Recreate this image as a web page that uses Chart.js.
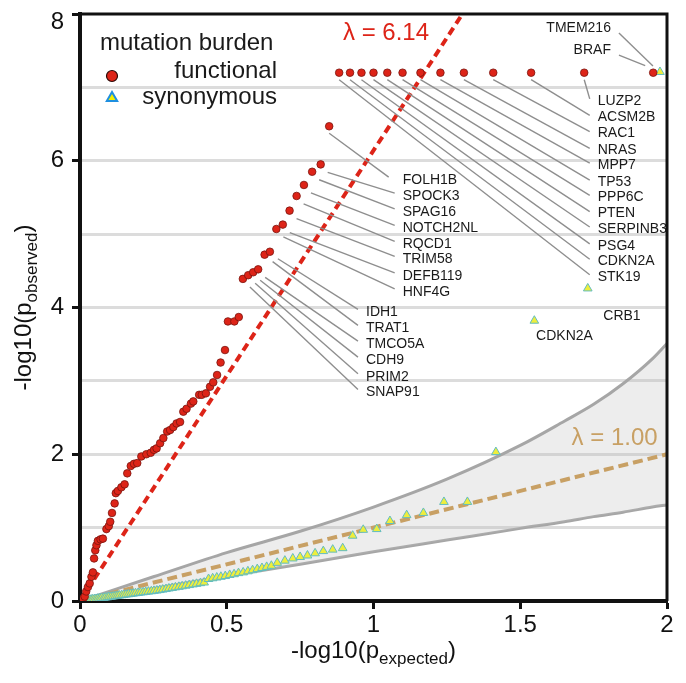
<!DOCTYPE html>
<html>
<head>
<meta charset="utf-8">
<script src="https://cdn.jsdelivr.net/npm/chart.js@4.4.1/dist/chart.umd.min.js"></script>
<style>
  html, body { margin: 0; padding: 0; background: #fff; }
  canvas { display: block; }
</style>
</head>
<body>
<canvas id="qq" width="686" height="683"></canvas>
<script>
// QQ plot data (-log10 expected vs observed)
const funcX = [0.010,0.016,0.021,0.027,0.033,0.039,0.044,0.048,0.052,0.056,0.061,0.070,0.078,0.090,0.098,0.103,0.109,0.118,0.122,0.129,
  0.141,0.152,0.161,0.173,0.184,0.195,0.209,0.226,0.241,0.252,0.261,0.273,0.284,0.297,0.307,0.318,0.329,0.341,0.352,0.363,
  0.378,0.386,0.406,0.415,0.429,0.443,0.454,0.467,0.479,0.494,0.504,0.526,0.541,0.555,0.573,0.590,0.607,0.629,0.647,0.669,
  0.691,0.714,0.738,0.763,0.791,0.820,0.849,0.883,0.920,0.959,1.000,1.047,1.099,1.160,1.228,1.308,1.408,1.537,1.718,1.953];
const funcY = [0.03,0.06,0.13,0.19,0.24,0.33,0.39,0.58,0.69,0.76,0.82,0.84,0.85,0.98,1.02,1.08,1.20,1.33,1.47,1.50,
  1.55,1.59,1.74,1.84,1.87,1.88,1.97,2.00,2.02,2.06,2.08,2.15,2.22,2.31,2.33,2.37,2.42,2.44,2.58,2.62,
  2.69,2.72,2.81,2.81,2.83,2.92,2.98,3.08,3.25,3.42,3.81,3.81,3.87,4.39,4.44,4.48,4.52,4.72,4.76,5.07,
  5.13,5.32,5.52,5.67,5.85,5.95,6.47,7.2,7.2,7.2,7.2,7.2,7.2,7.2,7.2,7.2,7.2,7.2,7.2,7.2];

const synX = [0.004,0.009,0.015,0.021,0.026,0.032,0.038,0.043,0.049,0.055,0.061,0.067,0.073,0.080,0.086,0.093,0.099,0.106,0.113,0.120,
  0.127,0.134,0.142,0.149,0.157,0.165,0.173,0.181,0.189,0.198,0.206,0.215,0.224,0.233,0.243,0.252,0.262,0.272,0.282,0.293,
  0.303,0.314,0.325,0.337,0.348,0.360,0.372,0.385,0.397,0.410,0.423,0.438,0.452,0.466,0.480,0.495,0.510,0.525,0.540,0.556,
  0.572,0.588,0.604,0.620,0.636,0.652,0.672,0.698,0.725,0.750,0.775,0.801,0.829,0.861,0.895,0.929,0.965,1.011,1.056,1.113,
  1.170,1.240,1.320,1.417,1.548,1.730,1.976];
const synY = [0.002,0.005,0.008,0.010,0.014,0.016,0.020,0.022,0.026,0.028,0.033,0.035,0.040,0.042,0.047,0.050,0.055,0.058,0.063,0.066,
  0.071,0.075,0.079,0.083,0.088,0.092,0.097,0.101,0.106,0.110,0.115,0.119,0.124,0.128,0.133,0.138,0.143,0.149,0.156,0.163,
  0.171,0.178,0.186,0.193,0.201,0.209,0.217,0.226,0.234,0.243,0.252,0.300,0.310,0.320,0.330,0.340,0.355,0.365,0.380,0.390,
  0.405,0.420,0.435,0.450,0.465,0.480,0.520,0.550,0.580,0.600,0.620,0.650,0.680,0.700,0.720,0.890,0.970,0.980,1.090,1.170,
  1.200,1.350,1.350,2.030,3.820,4.260,7.210];

// 95% band around the null line
const bandX     = [0, 0.25, 0.5, 0.75, 1.0, 1.25, 1.5, 1.65, 1.75, 1.85, 1.95, 2.0];
const bandUpper = [0, 0.33, 0.66, 0.95, 1.28, 1.66, 2.12, 2.45, 2.68, 2.96, 3.30, 3.51];
const bandLower = [0, 0.17, 0.34, 0.50, 0.67, 0.83, 0.99, 1.08, 1.15, 1.21, 1.28, 1.31];

const lambdaFunc = 6.14;
const lambdaSyn = 1.00;

const xTicks = [0, 0.5, 1, 1.5, 2];
const yTicks = [0, 2, 4, 6, 8];

// gene labels: which point, where the text sits (data units), leader offsets (px)
const geneLabels = [
  {gene:'TMEM216', s:'s', at:1.976, pos:[1.809,7.81], align:'right', from:[-7,-6], to:[8,5]},
  {gene:'BRAF',    s:'f', at:1.953, pos:[1.809,7.507], align:'right', from:[-8,-7], to:[8,5]},
  {gene:'LUZP2',   s:'f', at:1.718, pos:[1.764,6.816], from:[0,7], to:[-8,-2]},
  {gene:'ACSM2B',  s:'f', at:1.537, pos:[1.764,6.59], from:[0,7], to:[-8,-2]},
  {gene:'RAC1',    s:'f', at:1.408, pos:[1.764,6.37], from:[0,7], to:[-8,-2]},
  {gene:'NRAS',    s:'f', at:1.308, pos:[1.764,6.14], from:[0,7], to:[-8,-2]},
  {gene:'MPP7',    s:'f', at:1.228, pos:[1.764,5.94], from:[0,7], to:[-8,-2]},
  {gene:'TP53',    s:'f', at:1.160, pos:[1.764,5.71], from:[0,7], to:[-8,-2]},
  {gene:'PPP6C',   s:'f', at:1.099, pos:[1.764,5.50], from:[0,7], to:[-8,-2]},
  {gene:'PTEN',    s:'f', at:1.047, pos:[1.764,5.28], from:[0,7], to:[-8,-2]},
  {gene:'SERPINB3',s:'f', at:1.000, pos:[1.764,5.07], from:[0,7], to:[-8,-2]},
  {gene:'PSG4',    s:'f', at:0.959, pos:[1.764,4.84], from:[0,7], to:[-8,-2]},
  {gene:'CDKN2A',  s:'f', at:0.920, pos:[1.764,4.63], from:[0,7], to:[-8,-2]},
  {gene:'STK19',   s:'f', at:0.883, pos:[1.764,4.42], from:[0,7], to:[-8,-2]},
  {gene:'FOLH1B',  s:'f', at:0.849, pos:[1.0995,5.736], from:[0,7], to:[-14,-3]},
  {gene:'SPOCK3',  s:'f', at:0.820, pos:[1.0995,5.518], from:[7,8], to:[-8,-3]},
  {gene:'SPAG16',  s:'f', at:0.791, pos:[1.0995,5.304], from:[7,8], to:[-8,-3]},
  {gene:'NOTCH2NL',s:'f', at:0.763, pos:[1.0995,5.078], from:[7,8], to:[-8,-3]},
  {gene:'RQCD1',   s:'f', at:0.738, pos:[1.0995,4.860], from:[7,8], to:[-8,-3]},
  {gene:'TRIM58',  s:'f', at:0.714, pos:[1.0995,4.655], from:[7,8], to:[-8,-3]},
  {gene:'DEFB119', s:'f', at:0.691, pos:[1.0995,4.432], from:[7,8], to:[-8,-3]},
  {gene:'HNF4G',   s:'f', at:0.669, pos:[1.0995,4.214], from:[7,8], to:[-8,-3]},
  {gene:'IDH1',    s:'f', at:0.647, pos:[0.9744,3.933], from:[8,7], to:[-8,-3]},
  {gene:'TRAT1',   s:'f', at:0.629, pos:[0.9744,3.715], from:[8,7], to:[-8,-3]},
  {gene:'TMCO5A',  s:'f', at:0.607, pos:[0.9744,3.501], from:[7,8], to:[-8,-3]},
  {gene:'CDH9',    s:'f', at:0.590, pos:[0.9744,3.283], from:[7,8], to:[-8,-3]},
  {gene:'PRIM2',   s:'f', at:0.573, pos:[0.9744,3.056], from:[7,8], to:[-8,-3]},
  {gene:'SNAP91',  s:'f', at:0.555, pos:[0.9744,2.843], from:[7,8], to:[-8,-3]},
  {gene:'CRB1',    s:'s', at:1.730, pos:[1.783,3.883]},
  {gene:'CDKN2A',  s:'s', at:1.548, pos:[1.554,3.610]}
];

const FONT = '"Liberation Sans", Arial, Helvetica, sans-serif';
const RED = '#dd2418';
const TAN = '#c8a064';

const toXY = (xs, ys) => xs.map((x, i) => ({x: x, y: ys[i]}));

// draws "-log10(p" + subscript + ")" centred at 0,0 on the baseline
function subTitle(ctx, main, sub, tail) {
  ctx.font = '24px ' + FONT;
  const w1 = ctx.measureText(main).width, w3 = ctx.measureText(tail).width;
  ctx.font = '17px ' + FONT;
  const w2 = ctx.measureText(sub).width;
  let x = -(w1 + w2 + w3) / 2;
  ctx.textAlign = 'left';
  ctx.textBaseline = 'alphabetic';
  ctx.font = '24px ' + FONT;
  ctx.fillText(main, x, 0);
  x += w1;
  ctx.font = '17px ' + FONT;
  ctx.fillText(sub, x, 6);
  x += w2;
  ctx.font = '24px ' + FONT;
  ctx.fillText(tail, x, 0);
}

const decorations = {
  id: 'decorations',
  afterDatasetsDraw(chart) {
    const ctx = chart.ctx, xs = chart.scales.x, ys = chart.scales.y;
    const a = chart.chartArea;
    ctx.save();

    // leader lines + gene names
    ctx.lineWidth = 1.4;
    ctx.strokeStyle = '#8e8e8e';
    ctx.fillStyle = '#1a1a1a';
    ctx.font = '14px ' + FONT;
    ctx.textBaseline = 'middle';
    geneLabels.forEach(g => {
      const sx = g.s === 'f' ? funcX : synX;
      const sy = g.s === 'f' ? funcY : synY;
      const i = sx.indexOf(g.at);
      const lx = xs.getPixelForValue(g.pos[0]), ly = ys.getPixelForValue(g.pos[1]);
      if (g.from) {
        const px = xs.getPixelForValue(sx[i]) + g.from[0];
        const py = ys.getPixelForValue(sy[i]) + g.from[1];
        ctx.beginPath();
        ctx.moveTo(px, py);
        ctx.lineTo(lx + g.to[0], ly + g.to[1]);
        ctx.stroke();
      }
      ctx.textAlign = g.align || 'left';
      ctx.fillText(g.gene, lx, ly);
    });

    // lambda labels
    ctx.font = '24px ' + FONT;
    ctx.textAlign = 'left';
    ctx.textBaseline = 'alphabetic';
    ctx.fillStyle = RED;
    ctx.fillText('\u03bb = ' + lambdaFunc.toFixed(2), xs.getPixelForValue(0.896), ys.getPixelForValue(7.64));
    ctx.fillStyle = TAN;
    ctx.fillText('\u03bb = ' + lambdaSyn.toFixed(2), xs.getPixelForValue(1.675), ys.getPixelForValue(2.12));

    // legend
    ctx.fillStyle = '#1a1a1a';
    ctx.fillText('mutation burden', a.left + 20, a.top + 36);
    ctx.textAlign = 'right';
    ctx.fillText('functional', a.left + 197, a.top + 64);
    ctx.fillText('synonymous', a.left + 197, a.top + 90);
    ctx.fillStyle = RED;
    ctx.strokeStyle = '#2a0a08';
    ctx.lineWidth = 1.2;
    Chart.helpers.drawPoint(ctx, {pointStyle: 'circle', radius: 5.5, borderWidth: 1.2}, a.left + 32, a.top + 62);
    ctx.fillStyle = '#f4f000';
    ctx.strokeStyle = '#1e8fe0';
    ctx.lineWidth = 2;
    Chart.helpers.drawPoint(ctx, {pointStyle: 'triangle', radius: 6, borderWidth: 2}, a.left + 32, a.top + 84);

    ctx.restore();
  },
  afterDraw(chart) {
    const ctx = chart.ctx, a = chart.chartArea;
    ctx.save();
    // frame (top + right)
    ctx.strokeStyle = '#111';
    ctx.lineWidth = 3;
    ctx.beginPath();
    ctx.moveTo(a.left, a.top);
    ctx.lineTo(a.right, a.top);
    ctx.lineTo(a.right, a.bottom);
    ctx.stroke();

    // top tick label sits just below its tick, as in the original figure
    ctx.fillStyle = '#111';
    ctx.font = '24px ' + FONT;
    ctx.textAlign = 'right';
    ctx.textBaseline = 'middle';
    ctx.fillText(String(yTicks[yTicks.length - 1]), a.left - 16, a.top + 8);

    // axis titles with subscripts
    ctx.save();
    ctx.translate((a.left + a.right) / 2, 658);
    subTitle(ctx, '-log10(p', 'expected', ')');
    ctx.restore();
    ctx.save();
    ctx.translate(31, (a.top + a.bottom) / 2);
    ctx.rotate(-Math.PI / 2);
    subTitle(ctx, '-log10(p', 'observed', ')');
    ctx.restore();
    ctx.restore();
  }
};

new Chart(document.getElementById('qq'), {
  type: 'scatter',
  data: {
    datasets: [
      {
        label: 'functional',
        data: toXY(funcX, funcY),
        pointStyle: 'circle',
        pointRadius: 3.8,
        backgroundColor: RED,
        borderColor: '#7a140e',
        borderWidth: 0.8,
        order: 1
      },
      {
        label: 'synonymous',
        data: toXY(synX, synY),
        pointStyle: 'triangle',
        pointRadius: 5,
        backgroundColor: '#eeee3c',
        borderColor: '#62bcc0',
        borderWidth: 1,
        order: 2
      },
      {
        type: 'line',
        label: 'lambda functional',
        data: [{x: 0, y: 0}, {x: 8 / lambdaFunc, y: 8}],
        borderColor: RED,
        borderWidth: 4,
        borderDash: [8, 5],
        pointRadius: 0,
        fill: false,
        order: 3
      },
      {
        type: 'line',
        label: 'lambda synonymous',
        data: [{x: 0, y: 0}, {x: 2, y: 2 * lambdaSyn}],
        borderColor: TAN,
        borderWidth: 4,
        borderDash: [10, 5],
        pointRadius: 0,
        fill: false,
        order: 4
      },
      {
        type: 'line',
        label: 'upper',
        data: toXY(bandX, bandUpper),
        borderColor: '#a6a6a6',
        borderWidth: 3,
        pointRadius: 0,
        cubicInterpolationMode: 'monotone',
        backgroundColor: 'rgba(190,190,190,0.28)',
        fill: '+1',
        order: 5
      },
      {
        type: 'line',
        label: 'lower',
        data: toXY(bandX, bandLower),
        borderColor: '#a6a6a6',
        borderWidth: 3,
        pointRadius: 0,
        cubicInterpolationMode: 'monotone',
        fill: false,
        order: 6
      }
    ]
  },
  options: {
    responsive: false,
    animation: false,
    layout: { padding: { top: 14, right: 19, left: 0, bottom: 0 } },
    plugins: {
      legend: { display: false },
      tooltip: { enabled: false }
    },
    scales: {
      x: {
        type: 'linear',
        min: 0,
        max: 2,
        afterFit: s => { s.height = 82; s.paddingLeft = 0; s.paddingRight = 0; },
        afterBuildTicks: s => { s.ticks = xTicks.map(v => ({value: v})); },
        ticks: {
          color: '#111',
          font: { family: FONT, size: 24 },
          padding: 2,
          maxRotation: 0,
          callback: v => String(v)
        },
        grid: { drawOnChartArea: false, tickLength: 8, tickWidth: 3, tickColor: '#111' },
        border: { color: '#111', width: 4 }
      },
      y: {
        min: 0,
        max: 8,
        afterFit: s => { s.width = 80; s.paddingTop = 0; s.paddingBottom = 0; },
        ticks: {
          stepSize: 1,
          color: '#111',
          font: { family: FONT, size: 24 },
          padding: 8,
          // top label is drawn by the plugin
          callback: v => (yTicks.includes(v) && v !== 8) ? String(v) : ''
        },
        grid: {
          color: c => (c.tick && c.tick.value > 0 && c.tick.value < 8) ? '#dcdcdc' : 'rgba(0,0,0,0)',
          lineWidth: 3,
          tickLength: 8,
          tickWidth: 3,
          tickColor: c => (c.tick && yTicks.includes(c.tick.value)) ? '#111' : 'rgba(0,0,0,0)'
        },
        border: { color: '#111', width: 4 }
      }
    }
  },
  plugins: [decorations]
});
</script>
</body>
</html>
